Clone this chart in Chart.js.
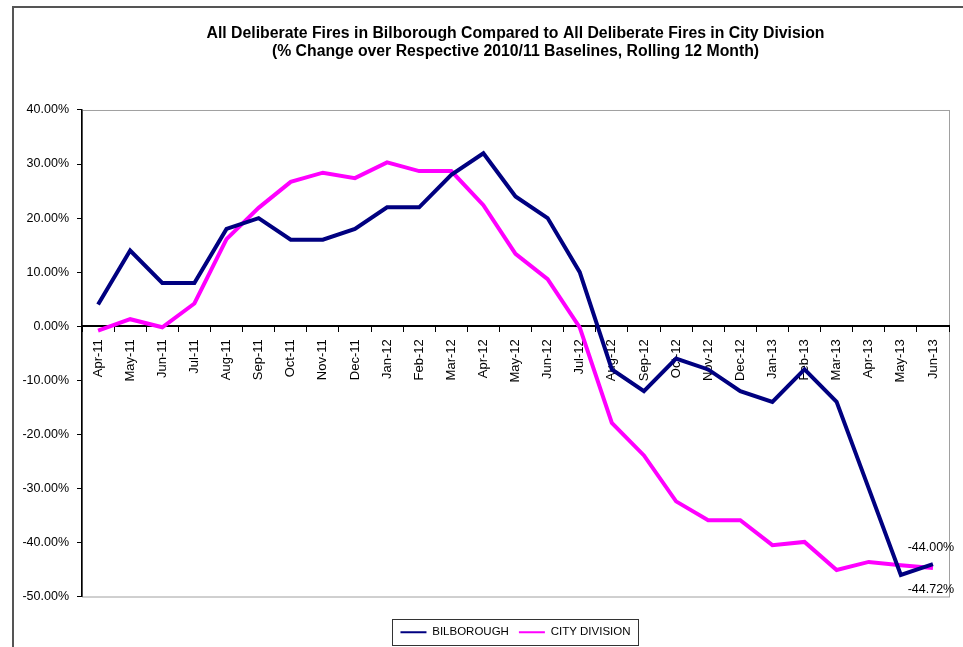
<!DOCTYPE html>
<html>
<head>
<meta charset="utf-8">
<script src="https://cdn.jsdelivr.net/npm/chart.js@4.4.0/dist/chart.umd.min.js"></script>
<style>
  html, body { margin: 0; padding: 0; background: #fff; }
  #wrap { width: 963px; height: 647px; }
</style>
</head>
<body>
<div id="wrap"><canvas id="firesChart" width="963" height="647"></canvas></div>
<script>
const months = ["Apr-11", "May-11", "Jun-11", "Jul-11", "Aug-11", "Sep-11", "Oct-11", "Nov-11", "Dec-11",
    "Jan-12", "Feb-12", "Mar-12", "Apr-12", "May-12", "Jun-12", "Jul-12", "Aug-12", "Sep-12", "Oct-12",
    "Nov-12", "Dec-12", "Jan-13", "Feb-13", "Mar-13", "Apr-13", "May-13", "Jun-13"];
const bilborough = [4, 14, 8, 8, 18, 20, 16, 16, 18, 22, 22, 28, 32, 24, 20, 10,
    -8, -12, -6, -8, -12, -14, -8, -14, -30, -46, -44];
const cityDivision = [-0.8, 1.3, -0.2, 4.2, 16.1, 21.9, 26.7, 28.4, 27.4, 30.3, 28.7, 28.7, 22.4, 13.4, 8.7, -0.2,
    -17.9, -23.9, -32.4, -35.9, -35.9, -40.5, -39.9, -45.1, -43.6, -44.2, -44.72];
const yMin = -50;
const yMax = 40;
const yStep = 10;

const font = "'Liberation Sans', Arial, sans-serif";

// frame, plot border, end-point labels and the box round the legend
const extras = {
    id: 'extras',
    beforeDraw(chart) {
        const ctx = chart.ctx;
        const a = chart.chartArea;
        ctx.save();
        ctx.strokeStyle = '#555';
        ctx.lineWidth = 2;
        ctx.beginPath();
        ctx.moveTo(13, 647);
        ctx.lineTo(13, 7);
        ctx.lineTo(963, 7);
        ctx.stroke();
        ctx.strokeStyle = '#a0a0a0';
        ctx.lineWidth = 1;
        ctx.strokeRect(a.left + 0.5, a.top + 0.5, a.right - a.left, a.bottom - a.top);
        ctx.restore();
    },
    afterDatasetsDraw(chart) {
        const ctx = chart.ctx;
        ctx.save();
        ctx.font = '12.5px ' + font;
        ctx.fillStyle = '#000';
        ctx.textAlign = 'center';
        ctx.textBaseline = 'middle';
        chart.data.datasets.forEach((ds, i) => {
            const pts = chart.getDatasetMeta(i).data;
            const last = pts[pts.length - 1];
            const v = ds.data[ds.data.length - 1];
            const dy = i === 0 ? -17 : 22;
            ctx.fillText(v.toFixed(2) + '%', last.x - 2, last.y + dy);
        });
        ctx.restore();
    },
    afterDraw(chart) {
        const boxes = chart.legend.legendHitBoxes;
        if (!boxes || !boxes.length) return;
        const left = Math.min(...boxes.map(b => b.left)) - 8;
        const right = Math.max(...boxes.map(b => b.left + b.width)) + 8;
        const top = Math.min(...boxes.map(b => b.top)) - 8;
        const bottom = Math.max(...boxes.map(b => b.top + b.height)) + 6;
        const ctx = chart.ctx;
        ctx.save();
        ctx.strokeStyle = '#333';
        ctx.lineWidth = 1;
        ctx.strokeRect(Math.round(left) + 0.5, Math.round(top) + 0.5, Math.round(right - left), Math.round(bottom - top));
        ctx.restore();
    }
};

new Chart(document.getElementById('firesChart'), {
    type: 'line',
    data: {
        labels: months,
        datasets: [{
            label: 'BILBOROUGH',
            data: bilborough,
            borderColor: '#000080',
            backgroundColor: '#000080',
            borderWidth: 4,
            pointRadius: 0,
            tension: 0,
            xAxisID: 'x'
        }, {
            label: 'CITY DIVISION',
            data: cityDivision,
            borderColor: '#ff00ff',
            backgroundColor: '#ff00ff',
            borderWidth: 4,
            pointRadius: 0,
            tension: 0,
            xAxisID: 'x'
        }]
    },
    options: {
        responsive: false,
        animation: false,
        layout: { padding: { top: 24, left: 18, right: 14, bottom: -1 } },
        plugins: {
            title: {
                display: true,
                fullSize: false,
                text: ['All Deliberate Fires in Bilborough Compared to All Deliberate Fires in City Division',
                       '(% Change over Respective 2010/11 Baselines, Rolling 12 Month)'],
                color: '#000',
                font: { family: font, size: 15.8, weight: 'bold', lineHeight: 1.18 },
                padding: { top: 0, bottom: 48.7 }
            },
            legend: {
                position: 'bottom',
                fullSize: false,
                labels: {
                    usePointStyle: true,
                    pointStyle: 'line',
                    pointStyleWidth: 26,
                    color: '#000',
                    padding: 10,
                    font: { family: font, size: 11.5 },
                    generateLabels(chart) {
                        const items = Chart.defaults.plugins.legend.labels.generateLabels(chart);
                        items.forEach(it => { it.lineWidth = 2; });
                        return items;
                    }
                }
            },
            tooltip: { enabled: false }
        },
        scales: {
            x: {
                axis: 'x',
                type: 'category',
                position: { y: 0 },
                offset: true,
                grid: { offset: true, drawOnChartArea: false, tickLength: 5, color: '#000' },
                border: { color: '#000', width: 2 },
                ticks: {
                    minRotation: 90,
                    maxRotation: 90,
                    autoSkip: false,
                    color: '#000',
                    padding: 8,
                    font: { family: font, size: 13 }
                }
            },
            spacer: {
                type: 'linear',
                axis: 'x',
                position: 'bottom',
                ticks: { display: false },
                grid: { display: false },
                border: { display: false },
                afterFit(s) { s.height = 20; }
            },
            y: {
                min: yMin,
                max: yMax,
                ticks: {
                    stepSize: yStep,
                    color: '#000',
                    padding: 8,
                    font: { family: font, size: 12.5 },
                    callback: v => v.toFixed(2) + '%'
                },
                grid: { drawOnChartArea: false, tickLength: 5, color: '#000' },
                border: { color: '#000', width: 1.5 },
                afterFit(s) { s.width = 64; }
            }
        }
    },
    plugins: [extras]
});
</script>
</body>
</html>
